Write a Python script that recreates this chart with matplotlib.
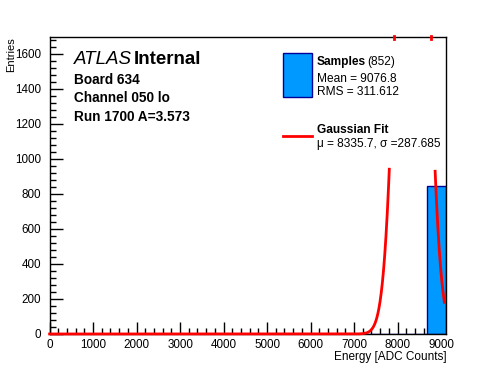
import numpy as np
import matplotlib.pyplot as plt
from matplotlib.ticker import MultipleLocator

plt.rcParams['font.family'] = ['Liberation Sans', 'DejaVu Sans']

# histogram: 20 bins over 0..9125, only the last one filled
bin_edges = np.linspace(0, 9125, 21)
counts = [0] * 19 + [846]

# gaussian fit parameters
fit_mu = 8335.7
fit_sigma = 287.685
fit_amp = 5000.0
fit_clip = 956.0        # curve segments above this are not drawn (as in the original)
fit_xmax = 9076.8
top_marks = [7920, 8770]

ymax = 1695

fig = plt.figure(figsize=(4.96, 3.72), dpi=100)
ax = fig.add_axes([0.1, 0.1022, 0.8002, 0.7975])

ax.hist(bin_edges[:-1], bins=bin_edges, weights=counts,
        color='#0099ff', edgecolor='#000099', linewidth=1.0, zorder=2)

xf = np.linspace(0, fit_xmax, 2000)
yf = fit_amp * np.exp(-(xf - fit_mu) ** 2 / (2 * fit_sigma ** 2))
yf[yf > fit_clip] = np.nan
ax.plot(xf, yf, color='red', lw=2, zorder=3, clip_on=False)
for xm in top_marks:
    ax.plot([xm, xm], [ymax - 8, ymax + 7], color='red', lw=2,
            clip_on=False, zorder=4)

ax.set_xlim(0, 9125)
ax.set_ylim(0, ymax)
ax.xaxis.set_major_locator(MultipleLocator(1000))
ax.xaxis.set_minor_locator(MultipleLocator(200))
ax.yaxis.set_major_locator(MultipleLocator(200))
ax.yaxis.set_minor_locator(MultipleLocator(40))
ax.tick_params(which='both', direction='in', top=False, right=False,
               labelsize=8.4, width=1)
ax.tick_params(axis='x', pad=3.5)
ax.tick_params(axis='y', pad=6)
ax.tick_params(which='major', length=9)
ax.tick_params(which='minor', length=4.5)
for s in ax.spines.values():
    s.set_linewidth(1)

fig.text(0.9, 0.031, 'Energy [ADC Counts]', ha='right', va='baseline', fontsize=8.5)
fig.text(0.012, 0.9, 'Entries', ha='left', va='top', rotation=90, fontsize=8)

# ATLAS label block
fig.text(74 / 496, 1 - 64 / 372, 'ATLAS', style='italic', fontsize=13.5, va='baseline')
fig.text(134 / 496, 1 - 64 / 372, 'Internal', weight='bold', fontsize=13.5, va='baseline')
for i, t in enumerate(['Board 634', 'Channel 050 lo', 'Run 1700 A=3.573']):
    fig.text(74 / 496, 1 - (84 + 18.3 * i) / 372, t, weight='bold',
             fontsize=9.8, va='baseline')

# legend
ax_px = lambda x, y: (x / 496, 1 - y / 372)
fig.patches.append(plt.Rectangle(ax_px(283, 97), 29 / 496, 44 / 372,
                                 transform=fig.transFigure, facecolor='#0099ff',
                                 edgecolor='#000099', lw=1))
fig.text(*ax_px(317, 65), 'Samples', weight='bold', fontsize=8.6, va='baseline')
fig.text(*ax_px(367, 65), '(852)', fontsize=8.6, va='baseline')
fig.text(*ax_px(317, 82), 'Mean = 9076.8', fontsize=8.6, va='baseline')
fig.text(*ax_px(317, 95), 'RMS = 311.612', fontsize=8.6, va='baseline')
fig.lines.append(plt.Line2D([283 / 496, 312 / 496], [1 - 136 / 372] * 2,
                            transform=fig.transFigure, color='red', lw=2))
fig.text(*ax_px(317, 133), 'Gaussian Fit', weight='bold', fontsize=8.6, va='baseline')
fig.text(*ax_px(317, 147), 'μ = 8335.7, σ =287.685', fontsize=8.6, va='baseline')

fig.savefig('out.png', dpi=100)
